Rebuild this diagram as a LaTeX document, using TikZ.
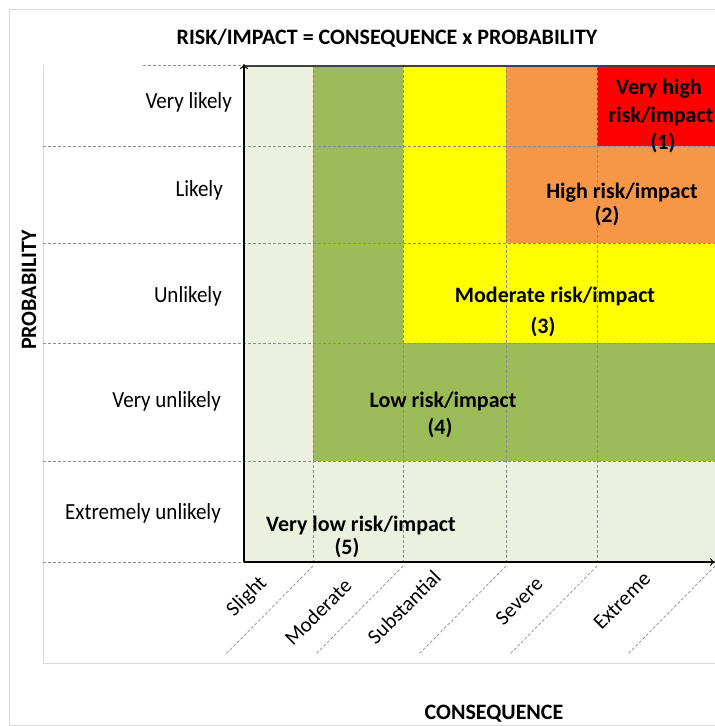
\documentclass[tikz,border=0pt]{standalone}
\usepackage{fontspec}
\setmainfont{Carlito}
\usetikzlibrary{arrows.meta}
\definecolor{cLight}{HTML}{EBF1DE}
\definecolor{cGreen}{HTML}{9BBB59}
\definecolor{cYellow}{HTML}{FFFF00}
\definecolor{cOrange}{HTML}{F79646}
\definecolor{cRed}{HTML}{FF0000}
\definecolor{cFrame}{HTML}{D9D9D9}
\definecolor{cGrid}{HTML}{8C8C8C}
\tikzset{
  frameline/.style={draw=cFrame, line width=0.8pt},
  gridline/.style={draw=cGrid, line width=0.7pt, dash pattern=on 3pt off 2pt},
  axisline/.style={draw=black, line width=2.4pt, -{To[length=5pt,width=8pt,line width=1pt]}},
  rowlab/.style={font=\fontsize{21}{24}\selectfont, anchor=east, inner sep=0pt, yscale=1.1},
  collab/.style={font=\fontsize{21}{24}\selectfont, rotate=45, inner sep=0pt},
  celllab/.style={font=\bfseries\fontsize{22}{25}\selectfont, inner sep=0pt},
  titlelab/.style={font=\bfseries\fontsize{22}{25}\selectfont, inner sep=0pt}
}
\begin{document}
\begin{tikzpicture}[x=1pt,y=-1pt]
\useasboundingbox (0,0) rectangle (715,726);
\clip (0,0) rectangle (715,726);
% frames
\draw[frameline] (9,9) rectangle (730,725);
\draw[frameline] (43,65) -- (43,663) -- (730,663);
% cell fills
\fill[cLight] (244,65) rectangle (730,562);
\fill[cGreen] (313,65) rectangle (730,461);
\fill[cYellow] (403,65) rectangle (730,343);
\fill[cOrange] (506,65) rectangle (730,243);
\fill[cRed] (597,65) rectangle (730,146);
% grid
\foreach \yy in {146,243,343,461,562} \draw[gridline] (43,\yy) -- (730,\yy);
\draw[gridline] (143,65) -- (244,65);
\foreach \xx in {313,403,506,597} \draw[gridline] (\xx,65) -- (\xx,562);
\draw[draw=black!75, line width=1.3pt] (244,66) -- (730,66);
% diagonal separators under the x axis
\foreach \xx in {313,403,506,597,715} \draw[gridline] (\xx,566) -- (\xx-88,655);
% axes
\coordinate (O) at (244,562);
\coordinate (Ytop) at (244,64);
\coordinate (Xend) at (715,562);
\draw[axisline] (O) -- (Ytop);
\draw[axisline] (O) -- (Xend);
% title and axis names
\node[titlelab] (title) at (387,38) {RISK/IMPACT = CONSEQUENCE x PROBABILITY};
\node[titlelab, rotate=90] (prob) at (29,290) {PROBABILITY};
\node[titlelab] (cons) at (494,714) {CONSEQUENCE};
% row labels
\node[rowlab] (r1) at (232,102) {Very likely};
\node[rowlab] (r2) at (223,190) {Likely};
\node[rowlab] (r3) at (222,296) {Unlikely};
\node[rowlab] (r4) at (221,401) {Very unlikely};
\node[rowlab] (r5) at (221,513) {Extremely unlikely};
% column labels
\node[collab] (c1) at (247,597) {Slight};
\node[collab] (c2) at (318,612) {Moderate};
\node[collab] (c3) at (404,607) {Substantial};
\node[collab] (c4) at (519,601) {Severe};
\node[collab] (c5) at (622,601) {Extreme};
% cell labels
\node[celllab] (v1a) at (659,89) {Very high};
\node[celllab] (v1b) at (661,117) {risk/impact};
\node[celllab] (v1c) at (663,143) {(1)};
\node[celllab] (v2a) at (622,193) {High risk/impact};
\node[celllab] (v2b) at (607,216) {(2)};
\node[celllab] (v3a) at (555,297) {Moderate risk/impact};
\node[celllab] (v3b) at (543,327) {(3)};
\node[celllab] (v4a) at (443,402) {Low risk/impact};
\node[celllab] (v4b) at (440,428) {(4)};
\node[celllab] (v5a) at (361,526) {Very low risk/impact};
\node[celllab] (v5b) at (347,548) {(5)};
\end{tikzpicture}
\end{document}
